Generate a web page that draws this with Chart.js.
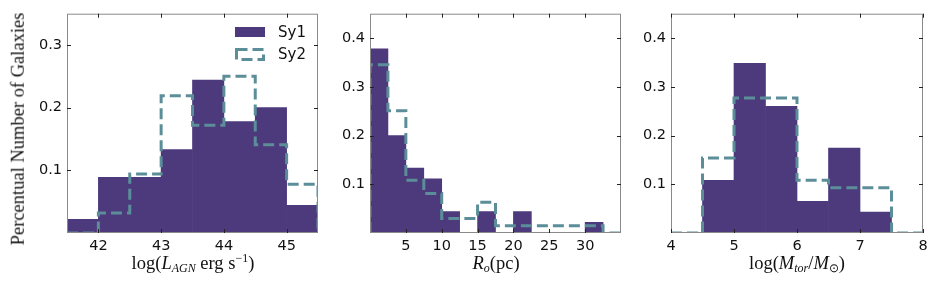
<!DOCTYPE html>
<html>
<head>
<meta charset="utf-8">
<script src="https://cdn.jsdelivr.net/npm/chart.js@4"></script>
<style>
  body { margin: 0; background: #fff; }
  #fig { position: relative; width: 937px; height: 292px; overflow: hidden; }
  canvas { position: absolute; top: 0; }
  .xt, .yt { position: absolute; font-family: "Liberation Serif", serif; font-size: 18.5px; color: #111; white-space: nowrap; line-height: 1; }
  .xt { top: 254px; transform: translateX(-50%); }
  .yt { left: 18px; top: 129px; transform: translate(-50%, -50%) rotate(-90deg); }
  sub, sup { font-size: 12px; line-height: 0; }
  sub { vertical-align: -3px; }
  sup { vertical-align: 7px; }
</style>
</head>
<body>
<div id="fig">
  <canvas id="c1" width="330" height="292" style="left:0"></canvas>
  <canvas id="c2" width="300" height="292" style="left:330px"></canvas>
  <canvas id="c3" width="307" height="292" style="left:630px"></canvas>
  <div class="yt">Percentual Number of Galaxies</div>
  <div class="xt" style="left:193px">log(<i>L</i><sub><i>AGN</i></sub> erg s<sup>−1</sup>)</div>
  <div class="xt" style="left:496px"><i>R</i><sub><i>o</i></sub>(pc)</div>
  <div class="xt" style="left:797px">log(<i>M</i><sub><i>tor</i></sub>/<i>M</i><sub>⊙</sub>)</div>
</div>
<script>
// bin edges and fractions per panel
const lagnEdges = [41.5, 42, 42.5, 43, 43.5, 44, 44.5, 45, 45.5];
const lagnSy1 = [0.022, 0.089, 0.089, 0.133, 0.244, 0.178, 0.2, 0.044];
const lagnSy2 = [0, 0.032, 0.094, 0.219, 0.172, 0.25, 0.141, 0.078];

const roEdges = [0, 2.5, 5, 7.5, 10, 12.5, 15, 17.5, 20, 22.5, 25, 27.5, 30, 32.5, 35];
const roSy1 = [0.378, 0.2, 0.133, 0.111, 0.044, 0, 0.044, 0, 0.044, 0, 0, 0, 0.022, 0];
const roSy2 = [0.345, 0.251, 0.108, 0.081, 0.03, 0.03, 0.063, 0.015, 0.015, 0.015, 0.015, 0.015, 0.015, 0];

const mtorEdges = [4, 4.5, 5, 5.5, 6, 6.5, 7, 7.5, 8];
const mtorSy1 = [0, 0.108, 0.348, 0.26, 0.065, 0.174, 0.043, 0];
const mtorSy2 = [0, 0.154, 0.277, 0.277, 0.108, 0.093, 0.093, 0];

const lagnTicks = [42, 43, 44, 45];
const roTicks = [5, 10, 15, 20, 25, 30];
const mtorTicks = [4, 5, 6, 7, 8];
const yTicks1 = [0.1, 0.2, 0.3];
const yTicks2 = [0.1, 0.2, 0.3, 0.4];

const sy1Color = '#4d3a7d';
const sy2Color = '#5b8e98';
const tickFont = { family: 'DejaVu Sans', size: 14.5 };

function barPoints(edges, vals) {
    return vals.map((v, i) => ({ x: (edges[i] + edges[i + 1]) / 2, y: v }));
}

function stepPoints(edges, vals) {
    const pts = [{ x: edges[0], y: 0 }];
    vals.forEach((v, i) => pts.push({ x: edges[i], y: v }));
    const n = edges.length - 1;
    pts.push({ x: edges[n], y: vals[n - 1] });
    pts.push({ x: edges[n], y: 0 });
    return pts;
}

// frame and inward ticks on all four sides
const frame = {
    id: 'frame',
    afterDraw(chart) {
        const ctx = chart.ctx;
        const a = chart.chartArea;
        const x = chart.scales.x, y = chart.scales.y;
        ctx.save();
        ctx.strokeStyle = '#8a8a8a';
        ctx.lineWidth = 1;
        ctx.strokeRect(a.left + 0.5, a.top + 0.5, a.right - a.left - 1, a.bottom - a.top - 1);
        ctx.strokeStyle = '#222';
        ctx.beginPath();
        x.ticks.forEach(t => {
            const px = Math.round(x.getPixelForValue(t.value)) + 0.5;
            ctx.moveTo(px, a.bottom); ctx.lineTo(px, a.bottom - 4);
            ctx.moveTo(px, a.top); ctx.lineTo(px, a.top + 4);
        });
        y.ticks.forEach(t => {
            const py = Math.round(y.getPixelForValue(t.value)) + 0.5;
            ctx.moveTo(a.left, py); ctx.lineTo(a.left + 4, py);
            ctx.moveTo(a.right, py); ctx.lineTo(a.right - 4, py);
        });
        ctx.stroke();
        ctx.restore();
    }
};

const legendBox = {
    id: 'legendBox',
    afterDraw(chart) {
        if (!chart.options.plugins.legendBox || !chart.options.plugins.legendBox.show) return;
        const ctx = chart.ctx;
        ctx.save();
        ctx.fillStyle = sy1Color;
        ctx.fillRect(235, 27, 30, 10);
        ctx.strokeStyle = sy2Color;
        ctx.lineWidth = 3;
        ctx.setLineDash([11, 5]);
        ctx.strokeRect(236.5, 49.5, 27, 10);
        ctx.setLineDash([]);
        ctx.fillStyle = '#111';
        ctx.font = '15px "DejaVu Sans"';
        ctx.textBaseline = 'middle';
        ctx.fillText('Sy1', 278, 33);
        ctx.fillText('Sy2', 278, 55);
        ctx.restore();
    }
};

function makePanel(id, edges, sy1, sy2, xTicks, yTicks, yMax, yWidth, padRight, showLegend) {
    new Chart(document.getElementById(id), {
        type: 'bar',
        data: {
            datasets: [
                {
                    type: 'line',
                    label: 'Sy2',
                    data: stepPoints(edges, sy2),
                    stepped: true,
                    borderColor: sy2Color,
                    borderWidth: 3,
                    borderDash: [11, 5],
                    pointRadius: 0,
                    fill: false,
                    order: 0
                },
                {
                    label: 'Sy1',
                    data: barPoints(edges, sy1),
                    backgroundColor: sy1Color,
                    borderWidth: 0,
                    barPercentage: 1,
                    categoryPercentage: 1,
                    grouped: false,
                    order: 1
                }
            ]
        },
        options: {
            responsive: false,
            animation: false,
            layout: { padding: { top: 11, right: padRight, left: 0, bottom: 0 } },
            plugins: {
                legend: { display: false },
                tooltip: { enabled: false },
                legendBox: { show: showLegend }
            },
            scales: {
                x: {
                    type: 'linear',
                    min: edges[0],
                    max: edges[edges.length - 1],
                    offset: false,
                    grid: { display: false, drawTicks: false },
                    border: { display: false },
                    afterBuildTicks: s => { s.ticks = xTicks.map(v => ({ value: v })); },
                    afterFit: s => { s.height = 59; },
                    ticks: { font: tickFont, color: '#111', padding: 5, maxRotation: 0 }
                },
                y: {
                    min: 0,
                    max: yMax,
                    grid: { display: false, drawTicks: false },
                    border: { display: false },
                    afterBuildTicks: s => { s.ticks = yTicks.map(v => ({ value: v })); },
                    afterFit: s => { s.width = yWidth; },
                    ticks: { font: tickFont, color: '#111', padding: 5 }
                }
            }
        },
        plugins: [frame, legendBox]
    });
}

makePanel('c1', lagnEdges, lagnSy1, lagnSy2, lagnTicks, yTicks1, 0.35, 67, 12, true);
makePanel('c2', roEdges, roSy1, roSy2, roTicks, yTicks2, 0.45, 40, 9, false);
makePanel('c3', mtorEdges, mtorSy1, mtorSy2, mtorTicks, yTicks2, 0.45, 41, 14, false);
</script>
</body>
</html>
